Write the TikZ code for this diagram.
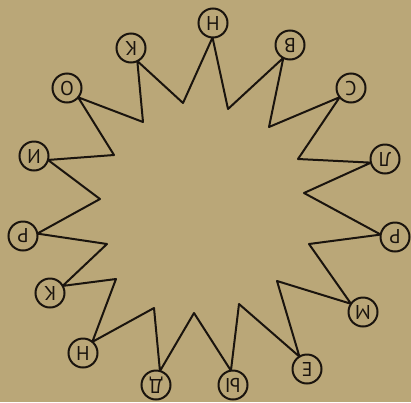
\documentclass[tikz,border=0pt]{standalone}
\usepackage{fontspec}
\setmainfont{PT Sans}
\usetikzlibrary{calc,backgrounds}
\definecolor{paper}{RGB}{186,167,120}
\definecolor{ink}{RGB}{26,20,14}
\tikzset{
  tip/.style={circle, draw=ink, line width=2pt, fill=paper, minimum size=29pt,
    inner sep=0pt, text=ink, font=\fontsize{20}{20}\selectfont, rotate=180},
  edge/.style={draw=ink, line width=2pt, line join=round},
}

\begin{document}
\begin{tikzpicture}[x=1pt, y=-1pt]
  \useasboundingbox (0,0) rectangle (411,402);
  \coordinate (c) at (207,205);
  % letters on the points of the star, clockwise from the top
  \node[tip] (t1) at (213,23) {Н};
  \node[tip] (t2) at (290,45) {В};
  \node[tip] (t3) at (351,88) {С};
  \node[tip] (t4) at (385,159) {Л};
  \node[tip] (t5) at (395,237) {Р};
  \node[tip] (t6) at (363,312) {М};
  \node[tip] (t7) at (307,369) {Е};
  \node[tip] (t8) at (233,385) {Ы};
  \node[tip] (t9) at (156,385) {Д};
  \node[tip] (t10) at (83,353) {Н};
  \node[tip] (t11) at (50,293) {К};
  \node[tip] (t12) at (23,236) {Р};
  \node[tip] (t13) at (34,156) {И};
  \node[tip] (t14) at (67,88) {О};
  \node[tip] (t15) at (131,48) {К};
  % inner corners
  \coordinate (v1) at (228,109);
  \coordinate (v2) at (269,127);
  \coordinate (v3) at (298,159);
  \coordinate (v4) at (304,193);
  \coordinate (v5) at (309,244);
  \coordinate (v6) at (277,281);
  \coordinate (v7) at (239,304);
  \coordinate (v8) at (194,313);
  \coordinate (v9) at (154,308);
  \coordinate (v10) at (116,279);
  \coordinate (v11) at (107,244);
  \coordinate (v12) at (100,199);
  \coordinate (v13) at (114,155);
  \coordinate (v14) at (143,122);
  \coordinate (v15) at (183,103);
  \begin{scope}[on background layer]
    \fill[paper] (0,0) rectangle (411,402);
    % star outline, each point meets its circle on the side facing the centre
    \draw[edge] ($(t1)!14.5pt!(c)$) -- (v1) -- ($(t2)!14.5pt!(c)$) -- (v2)
      -- ($(t3)!14.5pt!(c)$) -- (v3) -- ($(t4)!14.5pt!(c)$) -- (v4)
      -- ($(t5)!14.5pt!(c)$) -- (v5) -- ($(t6)!14.5pt!(c)$) -- (v6)
      -- ($(t7)!14.5pt!(c)$) -- (v7) -- ($(t8)!14.5pt!(c)$) -- (v8)
      -- ($(t9)!14.5pt!(c)$) -- (v9) -- ($(t10)!14.5pt!(c)$) -- (v10)
      -- ($(t11)!14.5pt!(c)$) -- (v11) -- ($(t12)!14.5pt!(c)$) -- (v12)
      -- ($(t13)!14.5pt!(c)$) -- (v13) -- ($(t14)!14.5pt!(c)$) -- (v14)
      -- ($(t15)!14.5pt!(c)$) -- (v15) -- cycle;
  \end{scope}
\end{tikzpicture}
\end{document}
